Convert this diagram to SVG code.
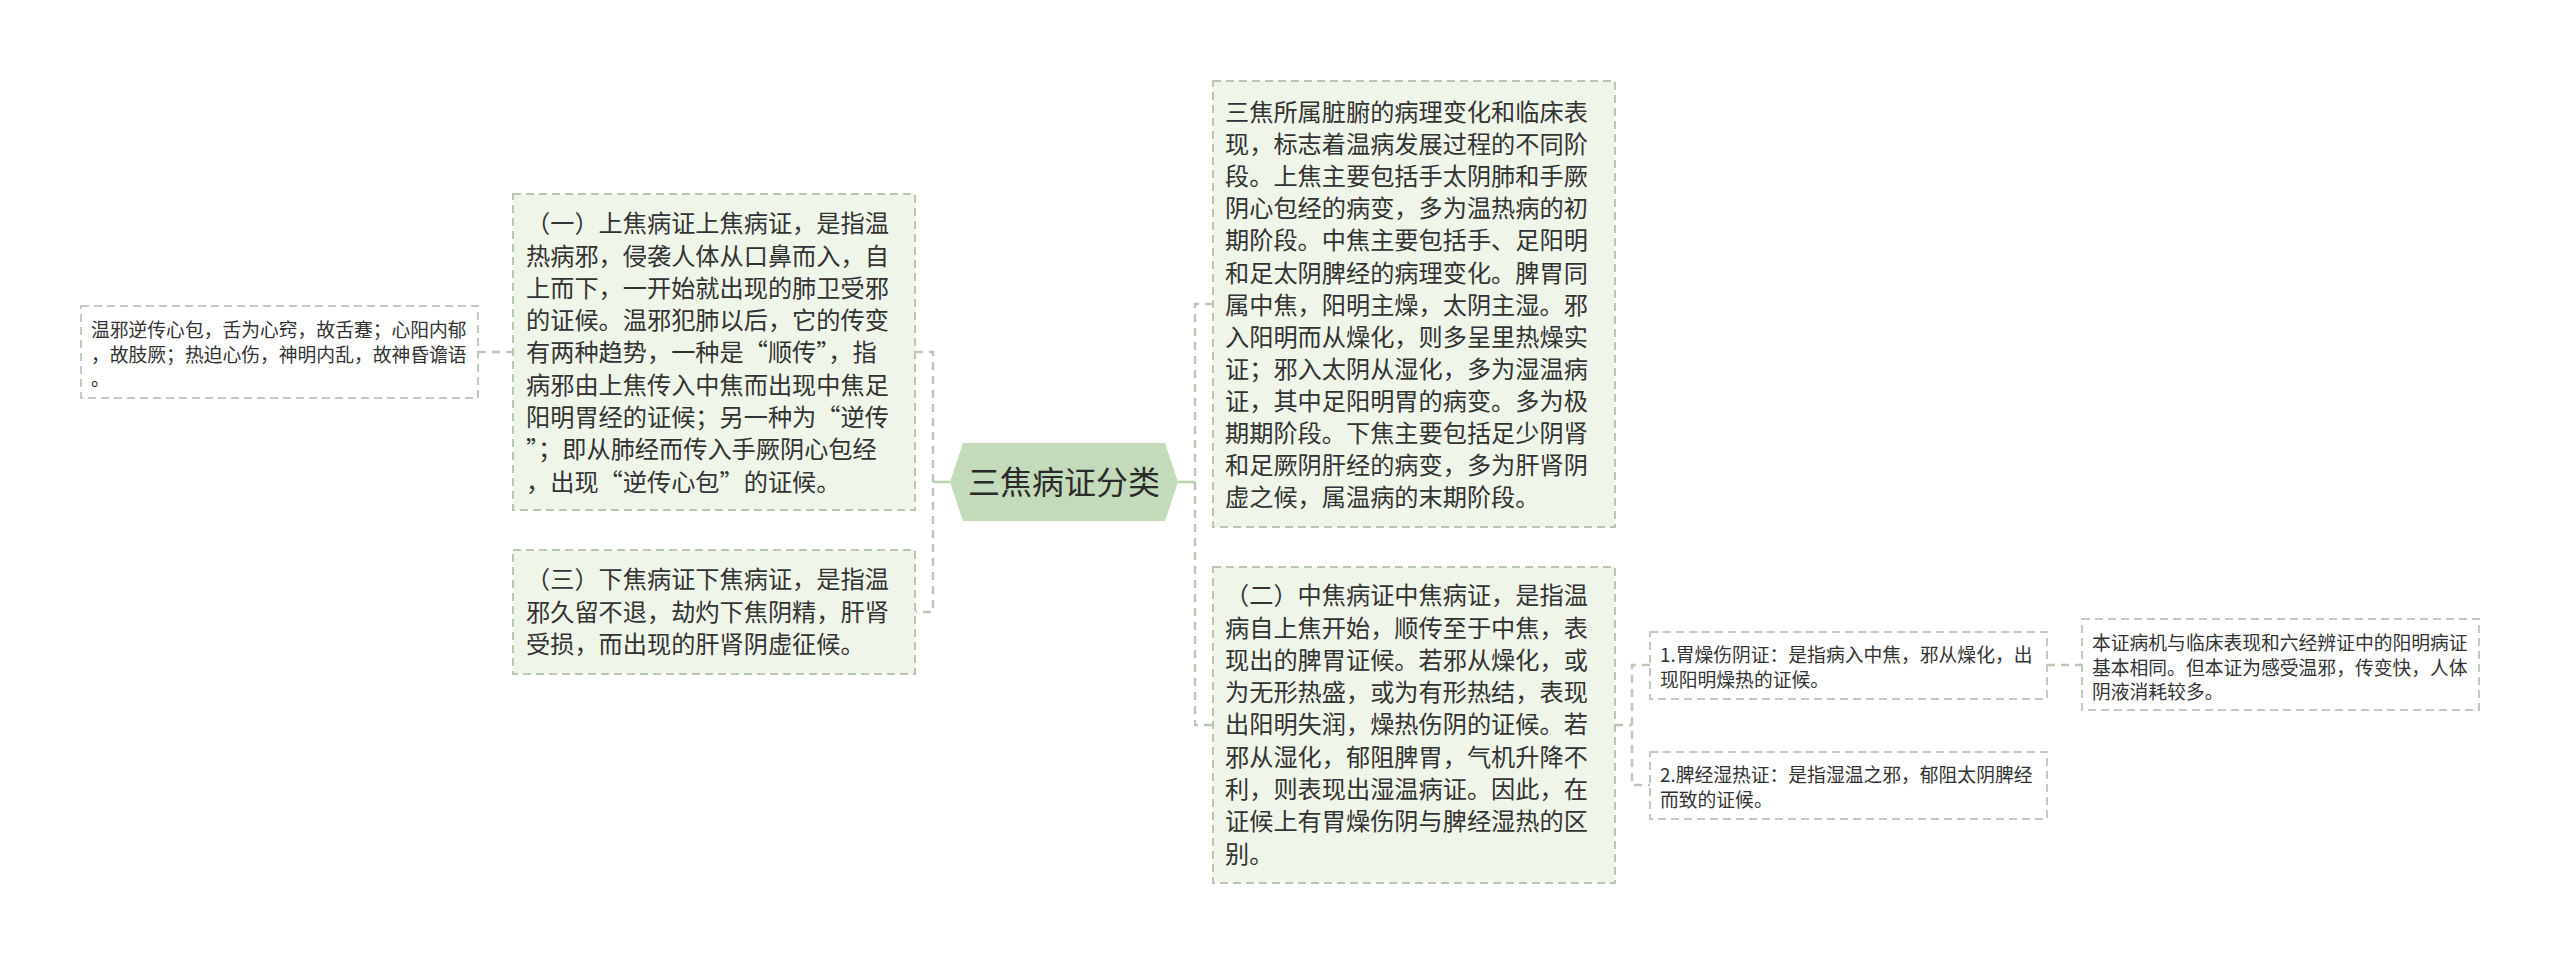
<svg xmlns="http://www.w3.org/2000/svg" width="2560" height="964" viewBox="0 0 2560 964">
<style>
  .box { fill: #f0f5e9; stroke: #b9c6b2; stroke-width: 2; stroke-dasharray: 8 5; }
  .box-w { fill: #ffffff; stroke: #c2c9be; stroke-width: 2; stroke-dasharray: 8 5; }
  .t24 { font-family: "Noto Sans CJK SC", "Liberation Sans", sans-serif; font-size: 24.2px; fill: #333333; }
  .t19 { font-family: "Noto Sans CJK SC", "Liberation Sans", sans-serif; font-size: 18.8px; fill: #333333; }
  .t32 { font-family: "Noto Sans CJK SC", "Liberation Sans", sans-serif; font-size: 32px; fill: #2b2b2b; }
  .solid { fill: none; stroke: #b9d3af; stroke-width: 2.5; }
  .dash { fill: none; stroke: #bcc6b6; stroke-width: 2.5; stroke-dasharray: 8 6; }
</style>
<rect width="2560" height="964" fill="#ffffff"/>
<g id="connectors">
  <path class="solid" d="M950 482 H933"/>
  <path class="dash" d="M915 352 H933 V612 H916"/>
  <path class="dash" d="M478 352 H513"/>
  <path class="solid" d="M1178 482 H1195"/>
  <path class="dash" d="M1213 304 H1195 V725 H1213"/>
  <path class="dash" d="M1615 725 H1632"/>
  <path class="dash" d="M1650 665 H1632 V785 H1650"/>
  <path class="dash" d="M2047 665 H2082"/>
</g>
<g id="root">
  <polygon points="950,482 963,443 1165,443 1178,482 1165,521 963,521" fill="#c3dabb"/>
  <text class="t32" x="1064" y="494" text-anchor="middle">三焦病证分类</text>
</g>
<g id="node-upper">
  <rect class="box" x="513" y="194" width="402" height="316"/>
  <text class="t24">
    <tspan x="526" y="232.2">（一）上焦病证上焦病证，是指温</tspan>
    <tspan x="526" y="264.5">热病邪，侵袭人体从口鼻而入，自</tspan>
    <tspan x="526" y="296.8">上而下，一开始就出现的肺卫受邪</tspan>
    <tspan x="526" y="329.1">的证候。温邪犯肺以后，它的传变</tspan>
    <tspan x="526" y="361.4">有两种趋势，一种是“顺传”，指</tspan>
    <tspan x="526" y="393.7">病邪由上焦传入中焦而出现中焦足</tspan>
    <tspan x="526" y="426.0">阳明胃经的证候；另一种为“逆传</tspan>
    <tspan x="526" y="458.3">”；即从肺经而传入手厥阴心包经</tspan>
    <tspan x="526" y="490.6">，出现“逆传心包”的证候。</tspan>
  </text>
</g>
<g id="node-upper-detail">
  <rect class="box-w" x="81" y="306" width="397" height="92"/>
  <text class="t19">
    <tspan x="91" y="337.1">温邪逆传心包，舌为心窍，故舌蹇；心阳内郁</tspan>
    <tspan x="91" y="361.6">，故肢厥；热迫心伤，神明内乱，故神昏谵语</tspan>
    <tspan x="91" y="386.1">。</tspan>
  </text>
</g>
<g id="node-lower">
  <rect class="box" x="513" y="550" width="402" height="124"/>
  <text class="t24">
    <tspan x="526" y="588.2">（三）下焦病证下焦病证，是指温</tspan>
    <tspan x="526" y="620.5">邪久留不退，劫灼下焦阴精，肝肾</tspan>
    <tspan x="526" y="652.8">受损，而出现的肝肾阴虚征候。</tspan>
  </text>
</g>
<g id="node-overview">
  <rect class="box" x="1213" y="81" width="402" height="446"/>
  <text class="t24">
    <tspan x="1225" y="121.0">三焦所属脏腑的病理变化和临床表</tspan>
    <tspan x="1225" y="153.1">现，标志着温病发展过程的不同阶</tspan>
    <tspan x="1225" y="185.2">段。上焦主要包括手太阴肺和手厥</tspan>
    <tspan x="1225" y="217.3">阴心包经的病变，多为温热病的初</tspan>
    <tspan x="1225" y="249.4">期阶段。中焦主要包括手、足阳明</tspan>
    <tspan x="1225" y="281.5">和足太阴脾经的病理变化。脾胃同</tspan>
    <tspan x="1225" y="313.6">属中焦，阳明主燥，太阴主湿。邪</tspan>
    <tspan x="1225" y="345.7">入阳明而从燥化，则多呈里热燥实</tspan>
    <tspan x="1225" y="377.8">证；邪入太阴从湿化，多为湿温病</tspan>
    <tspan x="1225" y="409.9">证，其中足阳明胃的病变。多为极</tspan>
    <tspan x="1225" y="442.0">期期阶段。下焦主要包括足少阴肾</tspan>
    <tspan x="1225" y="474.1">和足厥阴肝经的病变，多为肝肾阴</tspan>
    <tspan x="1225" y="506.2">虚之候，属温病的末期阶段。</tspan>
  </text>
</g>
<g id="node-middle">
  <rect class="box" x="1213" y="567" width="402" height="316"/>
  <text class="t24">
    <tspan x="1225" y="604.2">（二）中焦病证中焦病证，是指温</tspan>
    <tspan x="1225" y="636.5">病自上焦开始，顺传至于中焦，表</tspan>
    <tspan x="1225" y="668.8">现出的脾胃证候。若邪从燥化，或</tspan>
    <tspan x="1225" y="701.1">为无形热盛，或为有形热结，表现</tspan>
    <tspan x="1225" y="733.4">出阳明失润，燥热伤阴的证候。若</tspan>
    <tspan x="1225" y="765.7">邪从湿化，郁阻脾胃，气机升降不</tspan>
    <tspan x="1225" y="798.0">利，则表现出湿温病证。因此，在</tspan>
    <tspan x="1225" y="830.3">证候上有胃燥伤阴与脾经湿热的区</tspan>
    <tspan x="1225" y="862.6">别。</tspan>
  </text>
</g>
<g id="node-stomach">
  <rect class="box-w" x="1650" y="632" width="397" height="67"/>
  <text class="t19">
    <tspan x="1660" y="662.1">1.胃燥伤阴证：是指病入中焦，邪从燥化，出</tspan>
    <tspan x="1660" y="687.1">现阳明燥热的证候。</tspan>
  </text>
</g>
<g id="node-spleen">
  <rect class="box-w" x="1650" y="752" width="397" height="67"/>
  <text class="t19">
    <tspan x="1660" y="782.1">2.脾经湿热证：是指湿温之邪，郁阻太阴脾经</tspan>
    <tspan x="1660" y="807.1">而致的证候。</tspan>
  </text>
</g>
<g id="node-stomach-detail">
  <rect class="box-w" x="2082" y="619" width="397" height="91"/>
  <text class="t19">
    <tspan x="2092" y="650.1">本证病机与临床表现和六经辨证中的阳明病证</tspan>
    <tspan x="2092" y="674.6">基本相同。但本证为感受温邪，传变快，人体</tspan>
    <tspan x="2092" y="699.1">阴液消耗较多。</tspan>
  </text>
</g>
</svg>
